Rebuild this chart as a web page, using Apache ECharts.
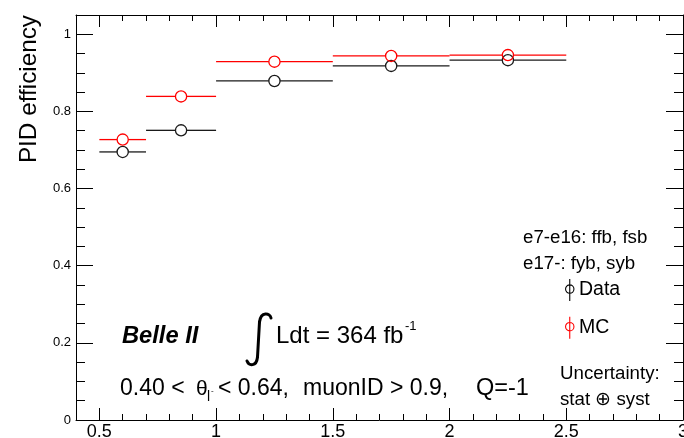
<!DOCTYPE html>
<html>
<head>
<meta charset="utf-8">
<script src="https://cdn.jsdelivr.net/npm/echarts@6/dist/echarts.min.js"></script>
<style>
html,body{margin:0;padding:0;background:#fff;}
#chart{width:684px;height:438px;}
</style>
</head>
<body>
<div id="chart"></div>
<script>
// ---- data ----
const binCenters = [0.6, 0.85, 1.25, 1.75, 2.25];
const binLow     = [0.5, 0.7, 1.0, 1.5, 2.0];
const binHigh    = [0.7, 1.0, 1.5, 2.0, 2.5];
const dataEff    = [0.695, 0.751, 0.879, 0.918, 0.933];
const mcEff      = [0.727, 0.839, 0.929, 0.944, 0.946];
const xTickLabels = [0.5, 1, 1.5, 2, 2.5, 3];
const yTickLabels = [0, 0.2, 0.4, 0.6, 0.8, 1];
const xMinorTicks = [0.4,0.6,0.7,0.8,0.9,1.1,1.2,1.3,1.4,1.6,1.7,1.8,1.9,2.1,2.2,2.3,2.4,2.6,2.7,2.8,2.9];
const yMinorTicks = [0.05,0.1,0.15,0.25,0.3,0.35,0.45,0.5,0.55,0.65,0.7,0.75,0.85,0.9,0.95];
const X_MIN = 0.4, X_MAX = 3.0, Y_MIN = 0, Y_MAX = 1.05;

const FONT = '"Liberation Sans", Arial, Helvetica, sans-serif';

function rows(eff){ return binCenters.map((c,i)=>[c, eff[i], binLow[i], binHigh[i]]); }

function makeRender(color){
  return function(params, api){
    const c  = api.coord([api.value(0), api.value(1)]);
    const lo = api.coord([api.value(2), api.value(1)]);
    const hi = api.coord([api.value(3), api.value(1)]);
    const r = 5.6;
    return {type:'group', children:[
      {type:'line', shape:{x1:lo[0], y1:c[1], x2:c[0]-r, y2:c[1]}, style:{stroke:color, lineWidth:1.3}},
      {type:'line', shape:{x1:c[0]+r, y1:c[1], x2:hi[0], y2:c[1]}, style:{stroke:color, lineWidth:1.3}},
      {type:'circle', shape:{cx:c[0], cy:c[1], r:r}, style:{fill:'none', stroke:color, lineWidth:1.3}}
    ]};
  };
}

function xAx(pos, ticks, len, labels, showLine){
  return {
    type:'value', position:pos, min:X_MIN, max:X_MAX,
    axisLine:{show:showLine, onZero:false, lineStyle:{color:'#000', width:1}},
    axisTick:{show:true, inside:true, length:len, customValues:ticks, lineStyle:{color:'#000', width:1}},
    axisLabel:{show:labels, customValues:ticks, color:'#000', fontSize:18, fontFamily:FONT, margin:3, hideOverlap:false},
    splitLine:{show:false}
  };
}
function yAx(pos, ticks, len, labels, showLine){
  return {
    type:'value', position:pos, min:Y_MIN, max:Y_MAX,
    axisLine:{show:showLine, onZero:false, lineStyle:{color:'#000', width:1}},
    axisTick:{show:true, inside:true, length:len, customValues:ticks, lineStyle:{color:'#000', width:1}},
    axisLabel:{show:labels, customValues:ticks, color:'#000', fontSize:13, fontFamily:FONT, margin:5},
    splitLine:{show:false}
  };
}

const legendIcon = 'path://M4.2,0L4.2,22M0,10A4.2,4.2,0,1,1,8.4,10A4.2,4.2,0,1,1,0,10Z';

const chart = echarts.init(document.getElementById('chart'), null, {renderer:'canvas'});
chart.setOption({
  animation:false,
  backgroundColor:'#fff',
  grid:{left:76, right:1, top:15, bottom:18, containLabel:false, outerBoundsMode:'none'},
  xAxis:[
    xAx('bottom', xTickLabels, 12, true, true),
    xAx('bottom', xMinorTicks, 6, false, false),
    xAx('top', xTickLabels, 12, false, true),
    xAx('top', xMinorTicks, 6, false, false)
  ],
  yAxis:[
    yAx('left', yTickLabels, 17, true, true),
    yAx('left', yMinorTicks, 9, false, false),
    yAx('right', yTickLabels, 17, false, true),
    yAx('right', yMinorTicks, 9, false, false)
  ],
  legend:{
    show:true, orient:'vertical', left:565, top:278.5, itemGap:14.5,
    itemWidth:8.4, itemHeight:22, selectedMode:false, padding:0,
    textStyle:{color:'#000', fontSize:19.5, fontFamily:FONT},
    data:[
      {name:'Data', icon:legendIcon, itemStyle:{color:'transparent', borderColor:'#000', borderWidth:1.1}},
      {name:'MC', icon:legendIcon, itemStyle:{color:'transparent', borderColor:'#ff0000', borderWidth:1.1}}
    ]
  },
  series:[
    {name:'Data', type:'custom', xAxisIndex:0, yAxisIndex:0, data:rows(dataEff),
     encode:{x:[0,2,3], y:1}, renderItem:makeRender('#1a1a1a'), itemStyle:{color:'#000'}},
    {name:'MC', type:'custom', xAxisIndex:0, yAxisIndex:0, data:rows(mcEff),
     encode:{x:[0,2,3], y:1}, renderItem:makeRender('#ff0000'), itemStyle:{color:'#ff0000'}}
  ],
  graphic:[
    {type:'text', x:29, y:15, rotation:Math.PI/2,
     style:{text:'PID efficiency', fill:'#000', font:'24.3px '+FONT, textAlign:'right', textVerticalAlign:'middle'}},
    {type:'text', x:122, y:336,
     style:{text:'Belle II', fill:'#000', font:'italic bold 23.7px '+FONT, textAlign:'left', textVerticalAlign:'middle'}},
    {type:'bezierCurve', shape:{x1:271, y1:318, cpx1:270, cpy1:313, cpx2:261, cpy2:311, x2:259.5, y2:322},
     style:{fill:'none', stroke:'#000', lineWidth:3, lineCap:'round'}},
    {type:'line', shape:{x1:259.5, y1:322, x2:257.5, y2:357},
     style:{stroke:'#000', lineWidth:3, lineCap:'round'}},
    {type:'bezierCurve', shape:{x1:257.5, y1:357, cpx1:256.5, cpy1:367, cpx2:249, cpy2:366, x2:247, y2:361},
     style:{fill:'none', stroke:'#000', lineWidth:3, lineCap:'round'}},
    {type:'text', x:276, y:336,
     style:{text:'Ldt = 364 fb', fill:'#000', font:'24px '+FONT, textAlign:'left', textVerticalAlign:'middle'}},
    {type:'text', x:405, y:326,
     style:{text:'-1', fill:'#000', font:'13px '+FONT, textAlign:'left', textVerticalAlign:'middle'}},
    {type:'text', x:120, y:389,
     style:{text:'0.40 <', fill:'#000', font:'23px '+FONT, textAlign:'left', textVerticalAlign:'middle'}},
    {type:'text', x:196, y:389,
     style:{text:'θ', fill:'#000', font:'21px '+FONT, textAlign:'left', textVerticalAlign:'middle'}},
    {type:'text', x:207, y:397,
     style:{text:'l', fill:'#000', font:'14px '+FONT, textAlign:'left', textVerticalAlign:'middle'}},
    {type:'text', x:211, y:391,
     style:{text:'-', fill:'#000', font:'8px '+FONT, textAlign:'left', textVerticalAlign:'middle'}},
    {type:'text', x:218, y:389,
     style:{text:'< 0.64,', fill:'#000', font:'23px '+FONT, textAlign:'left', textVerticalAlign:'middle'}},
    {type:'text', x:303, y:389,
     style:{text:'muonID > 0.9,', fill:'#000', font:'23px '+FONT, textAlign:'left', textVerticalAlign:'middle'}},
    {type:'text', x:476, y:389,
     style:{text:'Q=-1', fill:'#000', font:'23.5px '+FONT, textAlign:'left', textVerticalAlign:'middle'}},
    {type:'text', x:523, y:238,
     style:{text:'e7-e16: ffb, fsb', fill:'#000', font:'18.7px '+FONT, textAlign:'left', textVerticalAlign:'middle'}},
    {type:'text', x:523, y:264,
     style:{text:'e17-: fyb, syb', fill:'#000', font:'18.7px '+FONT, textAlign:'left', textVerticalAlign:'middle'}},
    {type:'text', x:560, y:374,
     style:{text:'Uncertainty:', fill:'#000', font:'18.7px '+FONT, textAlign:'left', textVerticalAlign:'middle'}},
    {type:'text', x:560, y:400,
     style:{text:'stat ⊕ syst', fill:'#000', font:'18.7px '+FONT, textAlign:'left', textVerticalAlign:'middle'}}
  ]
});
</script>
</body>
</html>
